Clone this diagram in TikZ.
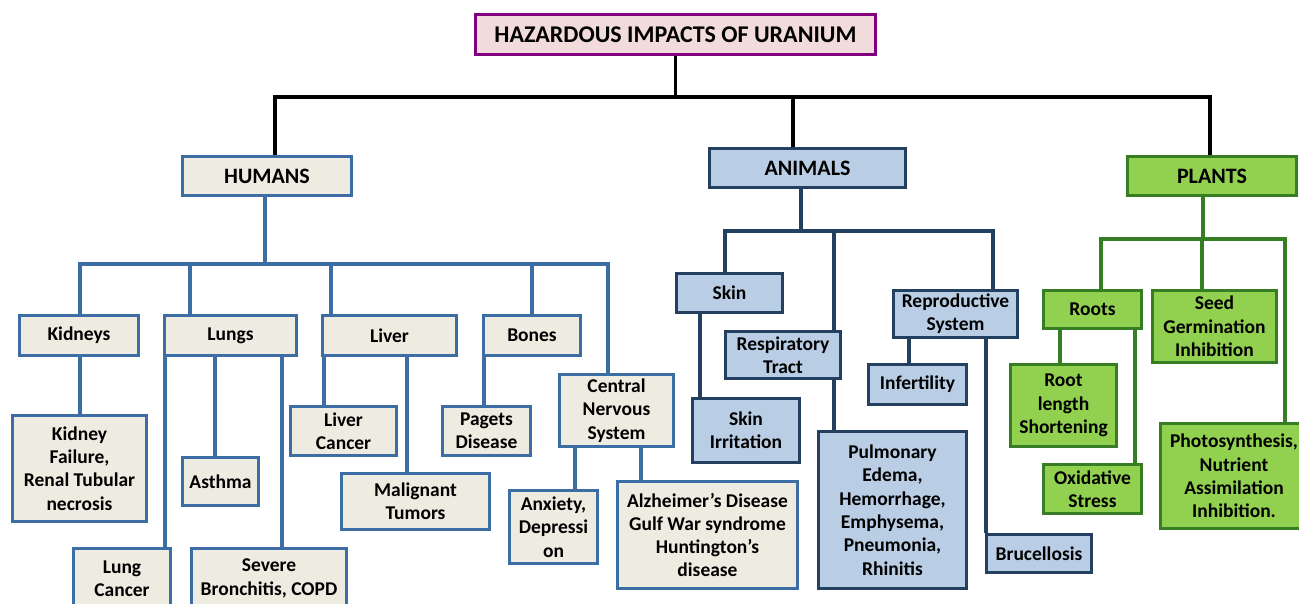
\documentclass[tikz,border=0pt]{standalone}
\usepackage{fontspec}
\setmainfont{Carlito}
\usetikzlibrary{backgrounds}

\definecolor{titlefill}{RGB}{242,220,219}
\definecolor{titledraw}{RGB}{128,0,128}
\definecolor{humfill}{RGB}{238,236,225}
\definecolor{humdraw}{RGB}{60,110,165}
\definecolor{anifill}{RGB}{185,205,229}
\definecolor{anidraw}{RGB}{36,64,97}
\definecolor{plafill}{RGB}{146,208,80}
\definecolor{pladraw}{RGB}{55,125,35}

\tikzset{
  box/.style={rectangle, line width=3pt, inner sep=0pt, align=center,
    font=\fontsize{19.5}{23.3}\selectfont\bfseries},
  sz/.style 2 args={minimum width=#1pt, minimum height=#2pt},
  catfont/.style={font=\fontsize{22}{26}\selectfont\bfseries},
  titlebox/.style={box, draw=titledraw, fill=titlefill, font=\fontsize{24}{28}\selectfont\bfseries},
  hbox/.style={box, draw=humdraw, fill=humfill},
  abox/.style={box, draw=anidraw, fill=anifill},
  pbox/.style={box, draw=pladraw, fill=plafill},
  tline/.style={draw=black, line width=3.6pt},
  hline/.style={draw=humdraw, line width=3.6pt},
  aline/.style={draw=anidraw, line width=3.6pt},
  pline/.style={draw=pladraw, line width=3.6pt},
}

\begin{document}
\begin{tikzpicture}[x=1pt, y=-1pt]
\useasboundingbox (0,0) rectangle (1299,603);

\node[titlebox, sz={400}{40}] (title) at (675.5,34.5) {HAZARDOUS IMPACTS OF URANIUM};

% humans
\node[hbox, catfont, sz={169}{39}] (humans) at (267,176) {HUMANS};
\node[hbox, sz={119}{40}] (kidneys) at (79,335.5) {Kidneys};
\node[hbox, sz={132}{40}] (lungs) at (230.5,335.5) {Lungs};
\node[hbox, sz={134}{40}] (liver) at (389.5,335.5) {Liver};
\node[hbox, sz={97}{40}] (bones) at (532,335.5) {Bones};
\node[hbox, sz={114}{72}] (cns) at (616.5,410.5) {Central\\Nervous\\System};
\node[hbox, sz={134}{106}] (kfail) at (79.5,468.5) {Kidney\\Failure,\\Renal Tubular\\necrosis};
\node[hbox, sz={76}{48}] (asthma) at (220.5,481.5) {Asthma};
\node[hbox, sz={97}{60}] (lcancer) at (122,578.5) {Lung\\Cancer};
\node[hbox, sz={155}{60}] (sbron) at (269,578.5) {Severe\\Bronchitis, COPD};
\node[hbox, sz={106}{49}] (lvcancer) at (343.5,431) {Liver\\Cancer};
\node[hbox, sz={148}{56}] (tumors) at (415.5,501.5) {Malignant\\Tumors};
\node[hbox, sz={88}{49}] (pagets) at (486.5,431) {Pagets\\Disease};
\node[hbox, sz={88}{73}] (anxiety) at (553.5,527) {Anxiety,\\Depressi\\on};
\node[hbox, sz={180}{107}] (alz) at (707.5,535) {Alzheimer’s Disease\\Gulf War syndrome\\Huntington’s\\disease};

% animals
\node[abox, catfont, sz={196}{39}] (animals) at (807.5,168) {ANIMALS};
\node[abox, sz={106}{39}] (skin) at (729.5,293) {Skin};
\node[abox, sz={115}{47}] (resp) at (783,355) {Respiratory\\Tract};
\node[abox, sz={124}{47}] (repro) at (955.5,314) {Reproductive\\System};
\node[abox, sz={107}{64}] (skinirr) at (746,430.5) {Skin\\Irritation};
\node[abox, sz={148}{157}] (pulm) at (892.5,510) {Pulmonary\\Edema,\\Hemorrhage,\\Emphysema,\\Pneumonia,\\Rhinitis};
\node[abox, sz={98}{40}] (infert) at (917.5,384.5) {Infertility};
\node[abox, sz={105}{38}] (bruc) at (1039,553.5) {Brucellosis};

% plants
\node[pbox, catfont, sz={169}{39}] (plants) at (1212,176) {PLANTS};
\node[pbox, sz={98}{38}] (roots) at (1092.5,309.5) {Roots};
\node[pbox, sz={124}{72}] (seed) at (1214.5,326.5) {Seed\\Germination\\Inhibition};
\node[pbox, sz={106}{82}] (rootlen) at (1063.5,405.5) {Root\\length\\Shortening};
\node[pbox, sz={98}{49}] (oxid) at (1092.5,489) {Oxidative\\Stress};
\node[pbox, sz={147}{105}] (photo) at (1234,476) {Photosynthesis,\\Nutrient\\Assimilation\\Inhibition.};

\begin{scope}[on background layer]
\coordinate (top) at (0,97);
\coordinate (hbus) at (0,264);
\coordinate (abus) at (0,231);
\coordinate (pbus) at (0,239);

\draw[tline] (title.south) -- (title.south |- top);
\draw[tline] (humans.north -| 275,0) |- (top -| 1210,0) -- (plants.north -| 1210,0);
\draw[tline] (animals.north -| 793,0) -- (top -| 793,0);

\draw[hline] (humans.south -| 265,0) -- (hbus -| 265,0);
\draw[hline] (kidneys.north -| 80,0) |- (hbus -| 608,0) -- (cns.north -| 608,0);
\draw[hline] (lungs.north -| 190,0) -- (hbus -| 190,0);
\draw[hline] (liver.north -| 331,0) -- (hbus -| 331,0);
\draw[hline] (bones.north) -- (bones.north |- hbus);
\draw[hline] (kidneys.south -| 80,0) -- (kfail.north -| 80,0);
\draw[hline] (lungs.south -| 165,0) -- (lcancer.north -| 165,0);
\draw[hline] (lungs.south -| 215,0) -- (asthma.north -| 215,0);
\draw[hline] (lungs.south -| 282,0) -- (sbron.north -| 282,0);
\draw[hline] (liver.south -| 324,0) -- (lvcancer.north -| 324,0);
\draw[hline] (liver.south -| 407,0) -- (tumors.north -| 407,0);
\draw[hline] (bones.south -| 484,0) -- (pagets.north -| 484,0);
\draw[hline] (cns.south -| 575,0) -- (anxiety.north -| 575,0);
\draw[hline] (cns.south -| 641,0) -- (alz.north -| 641,0);

\draw[aline] (animals.south -| 801,0) -- (abus -| 801,0);
\draw[aline] (skin.north -| 725,0) |- (abus -| 993,0) -- (repro.north -| 993,0);
\draw[aline] (resp.north -| 834,0) -- (abus -| 834,0);
\draw[aline] (skin.south -| 700,0) -- (skinirr.north -| 700,0);
\draw[aline] (resp.south -| 834,0) -- (pulm.north -| 834,0);
\draw[aline] (repro.south -| 909,0) -- (infert.north -| 909,0);
\draw[aline] (repro.south -| 986,0) -- (bruc.north -| 986,0);

\draw[pline] (plants.south -| 1203,0) -- (pbus -| 1203,0);
\draw[pline] (roots.north -| 1101,0) |- (pbus -| 1285,0) -- (photo.north -| 1285,0);
\draw[pline] (seed.north -| 1202,0) -- (pbus -| 1202,0);
\draw[pline] (roots.south -| 1060,0) -- (rootlen.north -| 1060,0);
\draw[pline] (roots.south -| 1135,0) -- (oxid.north -| 1135,0);
\end{scope}
\end{tikzpicture}
\end{document}
